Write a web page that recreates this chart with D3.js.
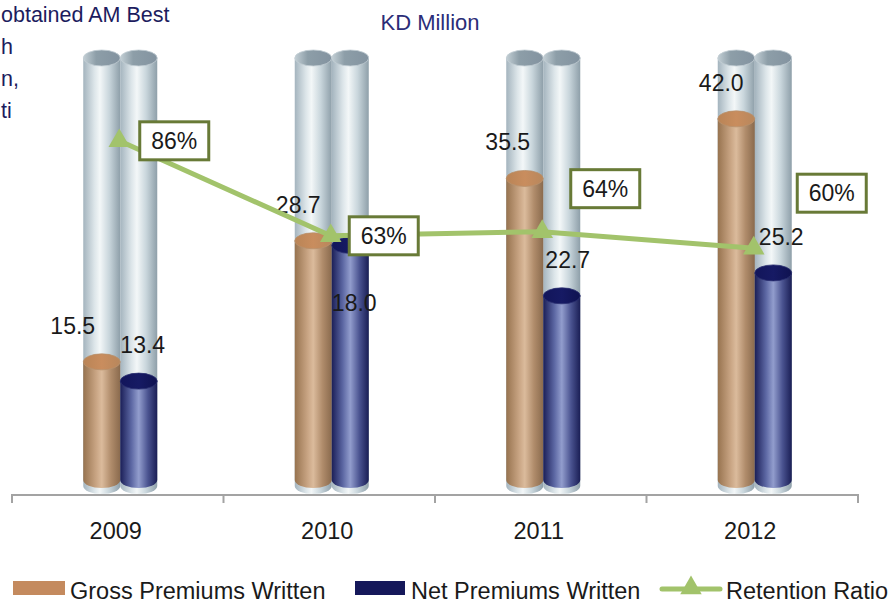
<!DOCTYPE html>
<html>
<head>
<meta charset="utf-8">
<script src="https://cdn.jsdelivr.net/npm/d3@7"></script>
<style>
  body { margin: 0; background: #fff; }
  svg { display: block; font-family: "Liberation Sans", Arial, sans-serif; }
</style>
</head>
<body>
<svg id="chart" width="896" height="603"></svg>
<script>
// data
var years = ["2009", "2010", "2011", "2012"];
var gross = [15.5, 28.7, 35.5, 42.0];
var net = [13.4, 18.0, 22.7, 25.2];
// the 2010 net column is drawn as tall as the gross one in the original
var netBars = [13.4, 28.2, 22.7, 25.2];
var retention = [86, 63, 64, 60];
var introLines = ["obtained AM Best", "h", "n,", "ti"];

var svg = d3.select("#chart");
var defs = svg.append("defs");

var floorY = 480;   // centre of the cylinders' bottom ellipse
var rx = 18.5, ry = 8;

var x = d3.scaleBand().domain(years).range([12, 858]);
var y = d3.scaleLinear().domain([0, 50]).range([504, 45.5]);
var y2 = d3.scaleLinear().domain([0, 100]).range([496, 83]);
var bgTop = 58;

// gradients
function hGrad(id, stops) {
	var g = defs.append("linearGradient").attr("id", id)
		.attr("x1", 0).attr("x2", 1).attr("y1", 0).attr("y2", 0);
	stops.forEach(s => g.append("stop").attr("offset", s[0]).attr("stop-color", s[1]));
}
hGrad("gBg", [[0, "#a4b4be"], [0.3, "#dce5e9"], [0.45, "#f3f7f8"], [0.7, "#c9d6dc"], [1, "#8e9fa9"]]);
hGrad("gBgTop", [[0, "#c3cfd5"], [0.35, "#8d9ea8"], [1, "#8393a0"]]);
hGrad("gGross", [[0, "#97734f"], [0.35, "#c9a584"], [0.5, "#dbbb9c"], [0.75, "#b08c6b"], [1, "#8a6a4d"]]);
hGrad("gGrossTop", [[0, "#b98456"], [0.5, "#c98d5e"], [1, "#b8875c"]]);
hGrad("gNet", [[0, "#1b1f58"], [0.3, "#5c67a3"], [0.5, "#929dcd"], [0.75, "#4a5390"], [1, "#1a1e55"]]);
hGrad("gNetTop", [[0, "#12155a"], [0.5, "#161a64"], [1, "#0f1250"]]);

function cylinder(g, cx, top, bottom, body, cap, capStroke) {
	g.append("path")
		.attr("d", `M${cx - rx},${top} L${cx - rx},${bottom} A${rx},${ry} 0 0 0 ${cx + rx},${bottom} L${cx + rx},${top} Z`)
		.attr("fill", `url(#${body})`);
	g.append("ellipse")
		.attr("cx", cx).attr("cy", top).attr("rx", rx).attr("ry", ry)
		.attr("fill", `url(#${cap})`)
		.attr("stroke", capStroke).attr("stroke-width", 0.8);
}

// intro text (a paragraph that runs off the left edge in the original)
svg.append("g").selectAll("text")
	.data(introLines).enter().append("text")
	.attr("x", 1)
	.attr("y", (d, i) => 22 + i * 32)
	.attr("fill", "#1c1c5e")
	.style("font-size", "21.5px")
	.text(d => d);

svg.append("text")
	.attr("x", 430).attr("y", 30)
	.attr("text-anchor", "middle")
	.attr("fill", "#2b2d78")
	.style("font-size", "22px")
	.text("KD Million");

// axis
var axisG = svg.append("g");
axisG.append("line")
	.attr("x1", 12).attr("x2", 858).attr("y1", 495).attr("y2", 495)
	.attr("stroke", "#a3a3a3").attr("stroke-width", 2);
var bounds = years.map(d => x(d)).concat([x.range()[1]]);
axisG.selectAll(".tk").data(bounds).enter().append("line")
	.attr("x1", d => d).attr("x2", d => d)
	.attr("y1", 494).attr("y2", 503)
	.attr("stroke", "#a3a3a3").attr("stroke-width", 2);

var xAxis = svg.append("g")
	.attr("transform", "translate(-2,539)")
	.call(d3.axisBottom(x).tickSize(0).tickPadding(0));
xAxis.select(".domain").remove();
xAxis.selectAll("text")
	.attr("dy", 0)
	.attr("fill", "#1a1a1a")
	.style("font-size", "23.5px")
	.style("font-family", "Liberation Sans, Arial, sans-serif");

// cylinders
var pairShift = 2.5;
var cyl = svg.append("g");
years.forEach(function(yr, i) {
	var c = x(yr) + x.bandwidth() / 2 + pairShift;
	var lx = c - rx, rxc = c + rx;
	cylinder(cyl, lx, bgTop, floorY + 6, "gBg", "gBgTop", "#c3ced4");
	cylinder(cyl, rxc, bgTop, floorY + 6, "gBg", "gBgTop", "#c3ced4");
	cylinder(cyl, lx, y(gross[i]), floorY, "gGross", "gGrossTop", "#b8906c");
	cylinder(cyl, rxc, y(netBars[i]), floorY, "gNet", "gNetTop", "#2a2f70");
});

// value labels
var grossDx = [-45, -31, -33, -31];
var netDx = [25, 25, 27, 29];
var lab = svg.append("g")
	.attr("text-anchor", "middle")
	.attr("fill", "#1a1a1a")
	.style("font-size", "23px");
lab.selectAll(".gl").data(gross).enter().append("text")
	.attr("x", (d, i) => x(years[i]) + x.bandwidth() / 2 + grossDx[i])
	.attr("y", d => y(d) - 28)
	.text(d => d.toFixed(1));
lab.selectAll(".nl").data(net).enter().append("text")
	.attr("x", (d, i) => x(years[i]) + x.bandwidth() / 2 + netDx[i])
	.attr("y", d => y(d) - 28)
	.text(d => d.toFixed(1));

// retention ratio line
var lineColor = "#a2c36b";
var pts = retention.map((d, i) => [x(years[i]) + x.bandwidth() / 2 + 1.5, y2(d)]);
svg.append("path")
	.datum(pts)
	.attr("fill", "none")
	.attr("stroke", lineColor)
	.attr("stroke-width", 5)
	.attr("d", d3.line());

var tri = d3.symbol().type(d3.symbolTriangle).size(200);
svg.selectAll(".mk").data(pts).enter().append("path")
	.attr("transform", d => `translate(${d[0]},${d[1]})`)
	.attr("fill", lineColor)
	.attr("d", tri);

// percentage boxes
var boxOff = [[55, 0], [53, 0], [63, -43], [78, -55]];
var bw = 69, bh = 38;
var boxes = svg.selectAll(".bx").data(retention).enter().append("g")
	.attr("transform", (d, i) => `translate(${pts[i][0] + boxOff[i][0]},${pts[i][1] + boxOff[i][1]})`);
boxes.append("rect")
	.attr("x", -bw / 2).attr("y", -bh / 2)
	.attr("width", bw).attr("height", bh)
	.attr("fill", "#fff")
	.attr("stroke", "#687a37")
	.attr("stroke-width", 3);
boxes.append("text")
	.attr("text-anchor", "middle")
	.attr("y", 8)
	.attr("fill", "#1a1a1a")
	.style("font-size", "23px")
	.text(d => d + "%");

// legend
var leg = svg.append("g").style("font-size", "23.5px").attr("fill", "#1a1a1a");
leg.append("rect").attr("x", 13).attr("y", 581).attr("width", 52).attr("height", 14).attr("fill", "#c48a5e");
leg.append("text").attr("x", 70).attr("y", 599).text("Gross Premiums Written");
leg.append("rect").attr("x", 355).attr("y", 581).attr("width", 50).attr("height", 14).attr("fill", "#15185a");
leg.append("text").attr("x", 411).attr("y", 599).text("Net Premiums Written");
leg.append("line").attr("x1", 662).attr("x2", 720).attr("y1", 589).attr("y2", 589)
	.attr("stroke", lineColor).attr("stroke-width", 5).attr("stroke-linecap", "round");
leg.append("path").attr("transform", "translate(691,588)").attr("fill", lineColor).attr("d", tri);
leg.append("text").attr("x", 726).attr("y", 599).text("Retention Ratio");
</script>
</body>
</html>
